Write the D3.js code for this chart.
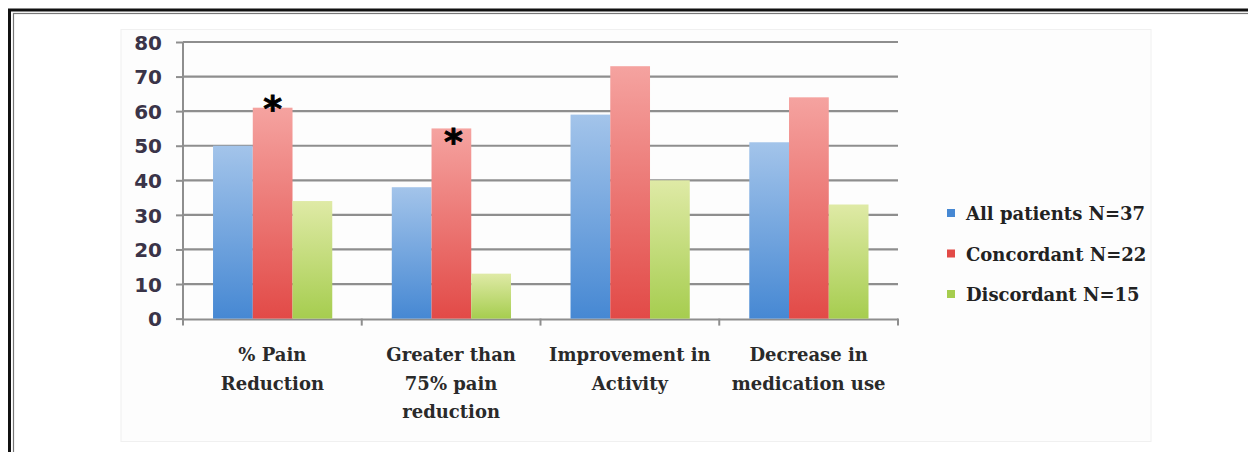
<!DOCTYPE html>
<meta charset="utf-8">
<head>
    <style>
        body {margin: 0; background: #fff;}
        .ytick text {font-family: "DejaVu Sans", sans-serif; font-weight: bold; font-size: 20px; fill: #3a3448;}
        .xlab {font-family: "DejaVu Serif", serif; font-weight: bold; font-size: 18px; fill: #2a2a2a;}
        .legend text {font-family: "DejaVu Serif", serif; font-weight: bold; font-size: 18px; fill: #222;}
    </style>
    <script src="https://d3js.org/d3.v7.min.js"></script>
</head>
<body>
<script>

    var categories = [["% Pain", "Reduction"], ["Greater than", "75% pain", "reduction"], ["Improvement in", "Activity"], ["Decrease in", "medication use"]],
        series = ["All patients N=37", "Concordant N=22", "Discordant N=15"],
        allPatients = [50, 38, 59, 51],
        concordant = [61, 55, 73, 64],
        discordant = [34, 13, 40, 33],
        yTicks = [0, 10, 20, 30, 40, 50, 60, 70, 80],
        starred = [0, 1];   // groups with * on concordant bar

    var values = [allPatients, concordant, discordant];
    var grads = [["#a3c4ea", "#4688d3"], ["#f5a3a0", "#e24a47"], ["#dfeaa6", "#a6cd4f"]];

    var svg = d3.select("body").append("svg")
        .attr("width", 1248)
        .attr("height", 452)

    // double frame
    svg.append("rect").attr("x", 9.5).attr("y", 10).attr("width", 1250).attr("height", 460)
        .attr("fill", "none").attr("stroke", "#111").attr("stroke-width", 3)
    svg.append("rect").attr("x", 13.5).attr("y", 13.5).attr("width", 1250).attr("height", 460)
        .attr("fill", "none").attr("stroke", "#777").attr("stroke-width", 1.2)

    // faint chart area box
    svg.append("rect").attr("x", 121).attr("y", 29.5).attr("width", 1030).attr("height", 412)
        .attr("fill", "#fdfdfd").attr("stroke", "#f0f0f0").attr("stroke-width", 1)

    var defs = svg.append("defs");
    grads.forEach(function(c, i) {
        var g = defs.append("linearGradient").attr("id", "g" + i)
            .attr("x1", 0).attr("y1", 0).attr("x2", 0).attr("y2", 1)
        g.append("stop").attr("offset", "0%").attr("stop-color", c[0])
        g.append("stop").attr("offset", "100%").attr("stop-color", c[1])
    })

    var pL = 183, pR = 898, pT = 42, pB = 318.6;

    var y = d3.scaleLinear().domain([0, 80]).range([pB, pT]);
    var x0 = d3.scaleBand().domain(d3.range(categories.length)).range([pL, pR]);
    var bw = x0.bandwidth();
    var x1 = d3.scaleBand().domain(d3.range(series.length)).range([bw * 0.168, bw * 0.835]);

    // gridlines
    svg.append("g").selectAll("line")
        .data(yTicks.slice(1))
      .enter().append("line")
        .attr("x1", pL).attr("x2", pR)
        .attr("y1", function(d) {return y(d)}).attr("y2", function(d) {return y(d)})
        .attr("stroke", "#8e8e8e").attr("stroke-width", 2.2)

    // y axis
    var yAxis = svg.append("g")
        .attr("transform", "translate(" + pL + ",0)")
        .call(d3.axisLeft(y).tickValues(yTicks).tickSize(7).tickPadding(14))
    yAxis.attr("class", "ytick").attr("font-size", null).attr("font-family", null)
    yAxis.select(".domain").attr("stroke", "#8e8e8e").attr("stroke-width", 2).attr("d", "M0," + pT + "V" + (pB + 1))
    yAxis.selectAll(".tick line").attr("stroke", "#8e8e8e").attr("stroke-width", 2)
    yAxis.selectAll(".tick text").attr("dy", "0.36em")

    // x axis
    svg.append("line").attr("x1", pL).attr("x2", pR).attr("y1", pB + 1).attr("y2", pB + 1)
        .attr("stroke", "#8e8e8e").attr("stroke-width", 2)
    svg.append("g").selectAll("line")
        .data(d3.range(categories.length + 1))
      .enter().append("line")
        .attr("x1", function(d) {return pL + d * bw}).attr("x2", function(d) {return pL + d * bw})
        .attr("y1", pB).attr("y2", pB + 7)
        .attr("stroke", "#8e8e8e").attr("stroke-width", 2)

    // bars
    var groups = svg.append("g").selectAll("g")
        .data(categories)
      .enter().append("g")
        .attr("transform", function(d, i) {return "translate(" + x0(i) + ",0)"})

    groups.selectAll("rect")
        .data(function(d, i) {return values.map(function(v, s) {return {s: s, v: v[i]}})})
      .enter().append("rect")
        .attr("x", function(d) {return x1(d.s)})
        .attr("width", x1.bandwidth())
        .attr("y", function(d) {return y(d.v)})
        .attr("height", function(d) {return pB - y(d.v)})
        .attr("fill", function(d) {return "url(#g" + d.s + ")"})

    // asterisks
    svg.append("g").selectAll("text")
        .data(starred)
      .enter().append("text")
        .attr("x", function(d, i) {return x0(d) + x1(1) + x1.bandwidth() / 2 + (i ? 2 : 0)})
        .attr("y", function(d, i) {return y(concordant[d]) + (i ? 26 : 13)})
        .attr("text-anchor", "middle")
        .attr("stroke", "#000").attr("stroke-width", 0.8)
        .style("font-family", "DejaVu Sans, sans-serif")
        .style("font-weight", "bold")
        .style("font-size", "36px")
        .text("*")

    // category labels
    svg.append("g").selectAll("text")
        .data(categories)
      .enter().append("text")
        .attr("class", "xlab")
        .attr("text-anchor", "middle")
        .attr("x", function(d, i) {return x0(i) + bw / 2})
        .attr("y", 361)
        .each(function(d) {
            d3.select(this).selectAll("tspan").data(d).enter().append("tspan")
                .attr("x", d3.select(this).attr("x"))
                .attr("dy", function(t, j) {return j ? 28.5 : 0})
                .text(function(t) {return t})
        })

    // legend
    var legend = svg.append("g").attr("class", "legend").selectAll("g")
        .data(series)
      .enter().append("g")
        .attr("transform", function(d, i) {return "translate(947," + (213 + i * 40.5) + ")"})
    legend.append("rect").attr("x", 0).attr("y", -4).attr("width", 8).attr("height", 8)
        .attr("fill", function(d, i) {return grads[i][1]})
    legend.append("text").attr("x", 19).attr("y", 7).text(function(d) {return d})

</script>
</body>
